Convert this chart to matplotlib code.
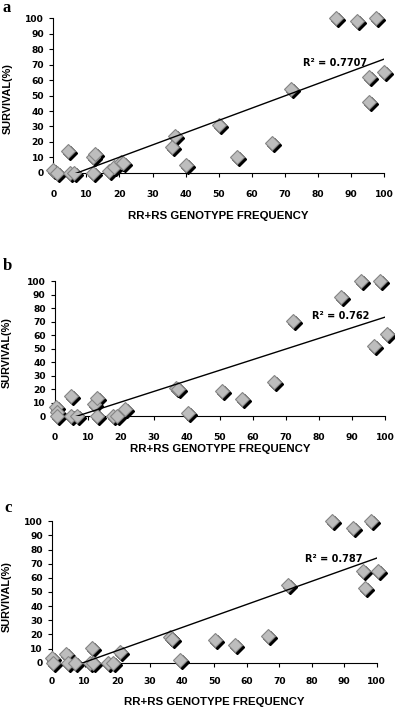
import numpy as np
import matplotlib
matplotlib.use("Agg")
import matplotlib.pyplot as plt
from matplotlib.transforms import offset_copy

# panel a
xa = [0, 1, 4.5, 5, 6.3, 12, 12.5, 12, 16.8, 18.3, 20.5, 21, 36, 36.7, 40, 50, 55.7, 66, 71.8, 85.6, 92, 97.6, 95.5, 100, 95.5]
ya = [2, 0, 14, 0, 0, 10, 12, 0, 1, 4, 7, 6, 17, 24, 5, 31, 10, 19, 54, 100, 98, 100, 62, 65, 46]
# panel b
xb = [0.3, 0.5, 0.5, 4.8, 5, 6.8, 11.9, 12.6, 12.8, 17.5, 18.9, 21.2, 36.7, 37.4, 40.2, 50.5, 56.8, 66.4, 72.2, 86.6, 92.6, 98.5, 96.5, 100.5]
yb = [7, 3, 0, 14.8, 0, 0, 8.6, 13.6, 0, 0, 0, 5, 21, 19.7, 2.5, 18.5, 12.3, 25.4, 70.4, 88, 100, 100, 51.9, 61]
# panel c
xc = [0, 0.3, 4.4, 4.9, 7, 12.4, 11.8, 12.6, 17.3, 18.8, 20.9, 36.3, 36.8, 39.4, 50.2, 56.3, 66.4, 72.5, 86.1, 92.6, 98.2, 95.7, 100.5, 96.4]
yc = [3, 0, 6.4, 0, 0, 10.4, 0, 0, 0, 0, 7.5, 18.2, 17, 1.6, 15.8, 12.3, 18.6, 55, 100, 95, 100, 64.6, 64.6, 52.8]

# linear trend lines as printed (slope, intercept)
trend_slope = [0.794, 0.7865, 0.8186]
trend_icept = [-5.8, -5.35, -7.86]
r2_text = ['R² = 0.7707', 'R² = 0.762', 'R² = 0.787']
panel_letters = ['a', 'b', 'c']

fig = plt.figure(figsize=(3.95, 7.08), dpi=100)

# [left, bottom, width, height] in figure fractions
boxes = [
    [0.135, 0.756, 0.837, 0.218],
    [0.139, 0.4124, 0.836, 0.1906],
    [0.132, 0.064, 0.822, 0.1997],
]
r2_pos = [(75.5, 71), (78, 74), (77.8, 73.6)]
letter_y = [0.9835, 0.6186, 0.2775]
letter_x = [0.006, 0.006, 0.012]
xtick_pad = [9.5, 9.5, 7]
xlabel_y = [-0.278, -0.244, -0.278]
ylabel_x = [-0.138, -0.146, -0.14]
ylabel_y = [0.48, 0.47, 0.47]

data = [(xa, ya), (xb, yb), (xc, yc)]

for i, (x, y) in enumerate(data):
    ax = fig.add_axes(boxes[i])
    x = np.array(x)
    y = np.array(y)

    shadow = offset_copy(ax.transData, fig=fig, x=2, y=-2, units='dots')
    ax.plot(x, y, 'D', ms=7.2, color='black', mec='black', transform=shadow,
            clip_on=False, zorder=3)
    ax.plot(x, y, 'D', ms=7.2, color='#bdbdbd', mec='#858585', mew=0.8,
            clip_on=False, zorder=4)

    xx = np.array([0, 100])
    ax.plot(xx, trend_slope[i] * xx + trend_icept[i], color='black', lw=1, zorder=5)

    ax.text(r2_pos[i][0], r2_pos[i][1], r2_text[i], fontsize=7, fontweight='bold',
            family='DejaVu Sans', va='center', ha='left', zorder=6)

    ax.set_xlim(0, 100)
    ax.set_ylim(0, 100)
    ax.set_xticks(range(0, 101, 10))
    ax.set_yticks(range(0, 101, 10))
    ax.spines['top'].set_visible(False)
    ax.spines['right'].set_visible(False)
    ax.tick_params(labelsize=6.6, length=3, width=0.8)
    ax.tick_params(axis='y', pad=3.6)
    ax.tick_params(axis='x', pad=xtick_pad[i])
    for lab in ax.get_xticklabels() + ax.get_yticklabels():
        lab.set_fontweight('bold')
        lab.set_family('DejaVu Sans')

    ax.set_xlabel('RR+RS GENOTYPE FREQUENCY', fontsize=8.2, fontweight='bold',
                  family='Liberation Sans', va='center')
    ax.xaxis.set_label_coords(0.5, xlabel_y[i])
    ax.set_ylabel('SURVIVAL(%)', fontsize=7.8, fontweight='bold',
                  family='Liberation Sans', va='center')
    ax.yaxis.set_label_coords(ylabel_x[i], ylabel_y[i])

    fig.text(letter_x[i], letter_y[i], panel_letters[i], fontsize=12, fontweight='bold',
             family='Liberation Serif', va='baseline', ha='left')

fig.savefig('out.png', dpi=100)
